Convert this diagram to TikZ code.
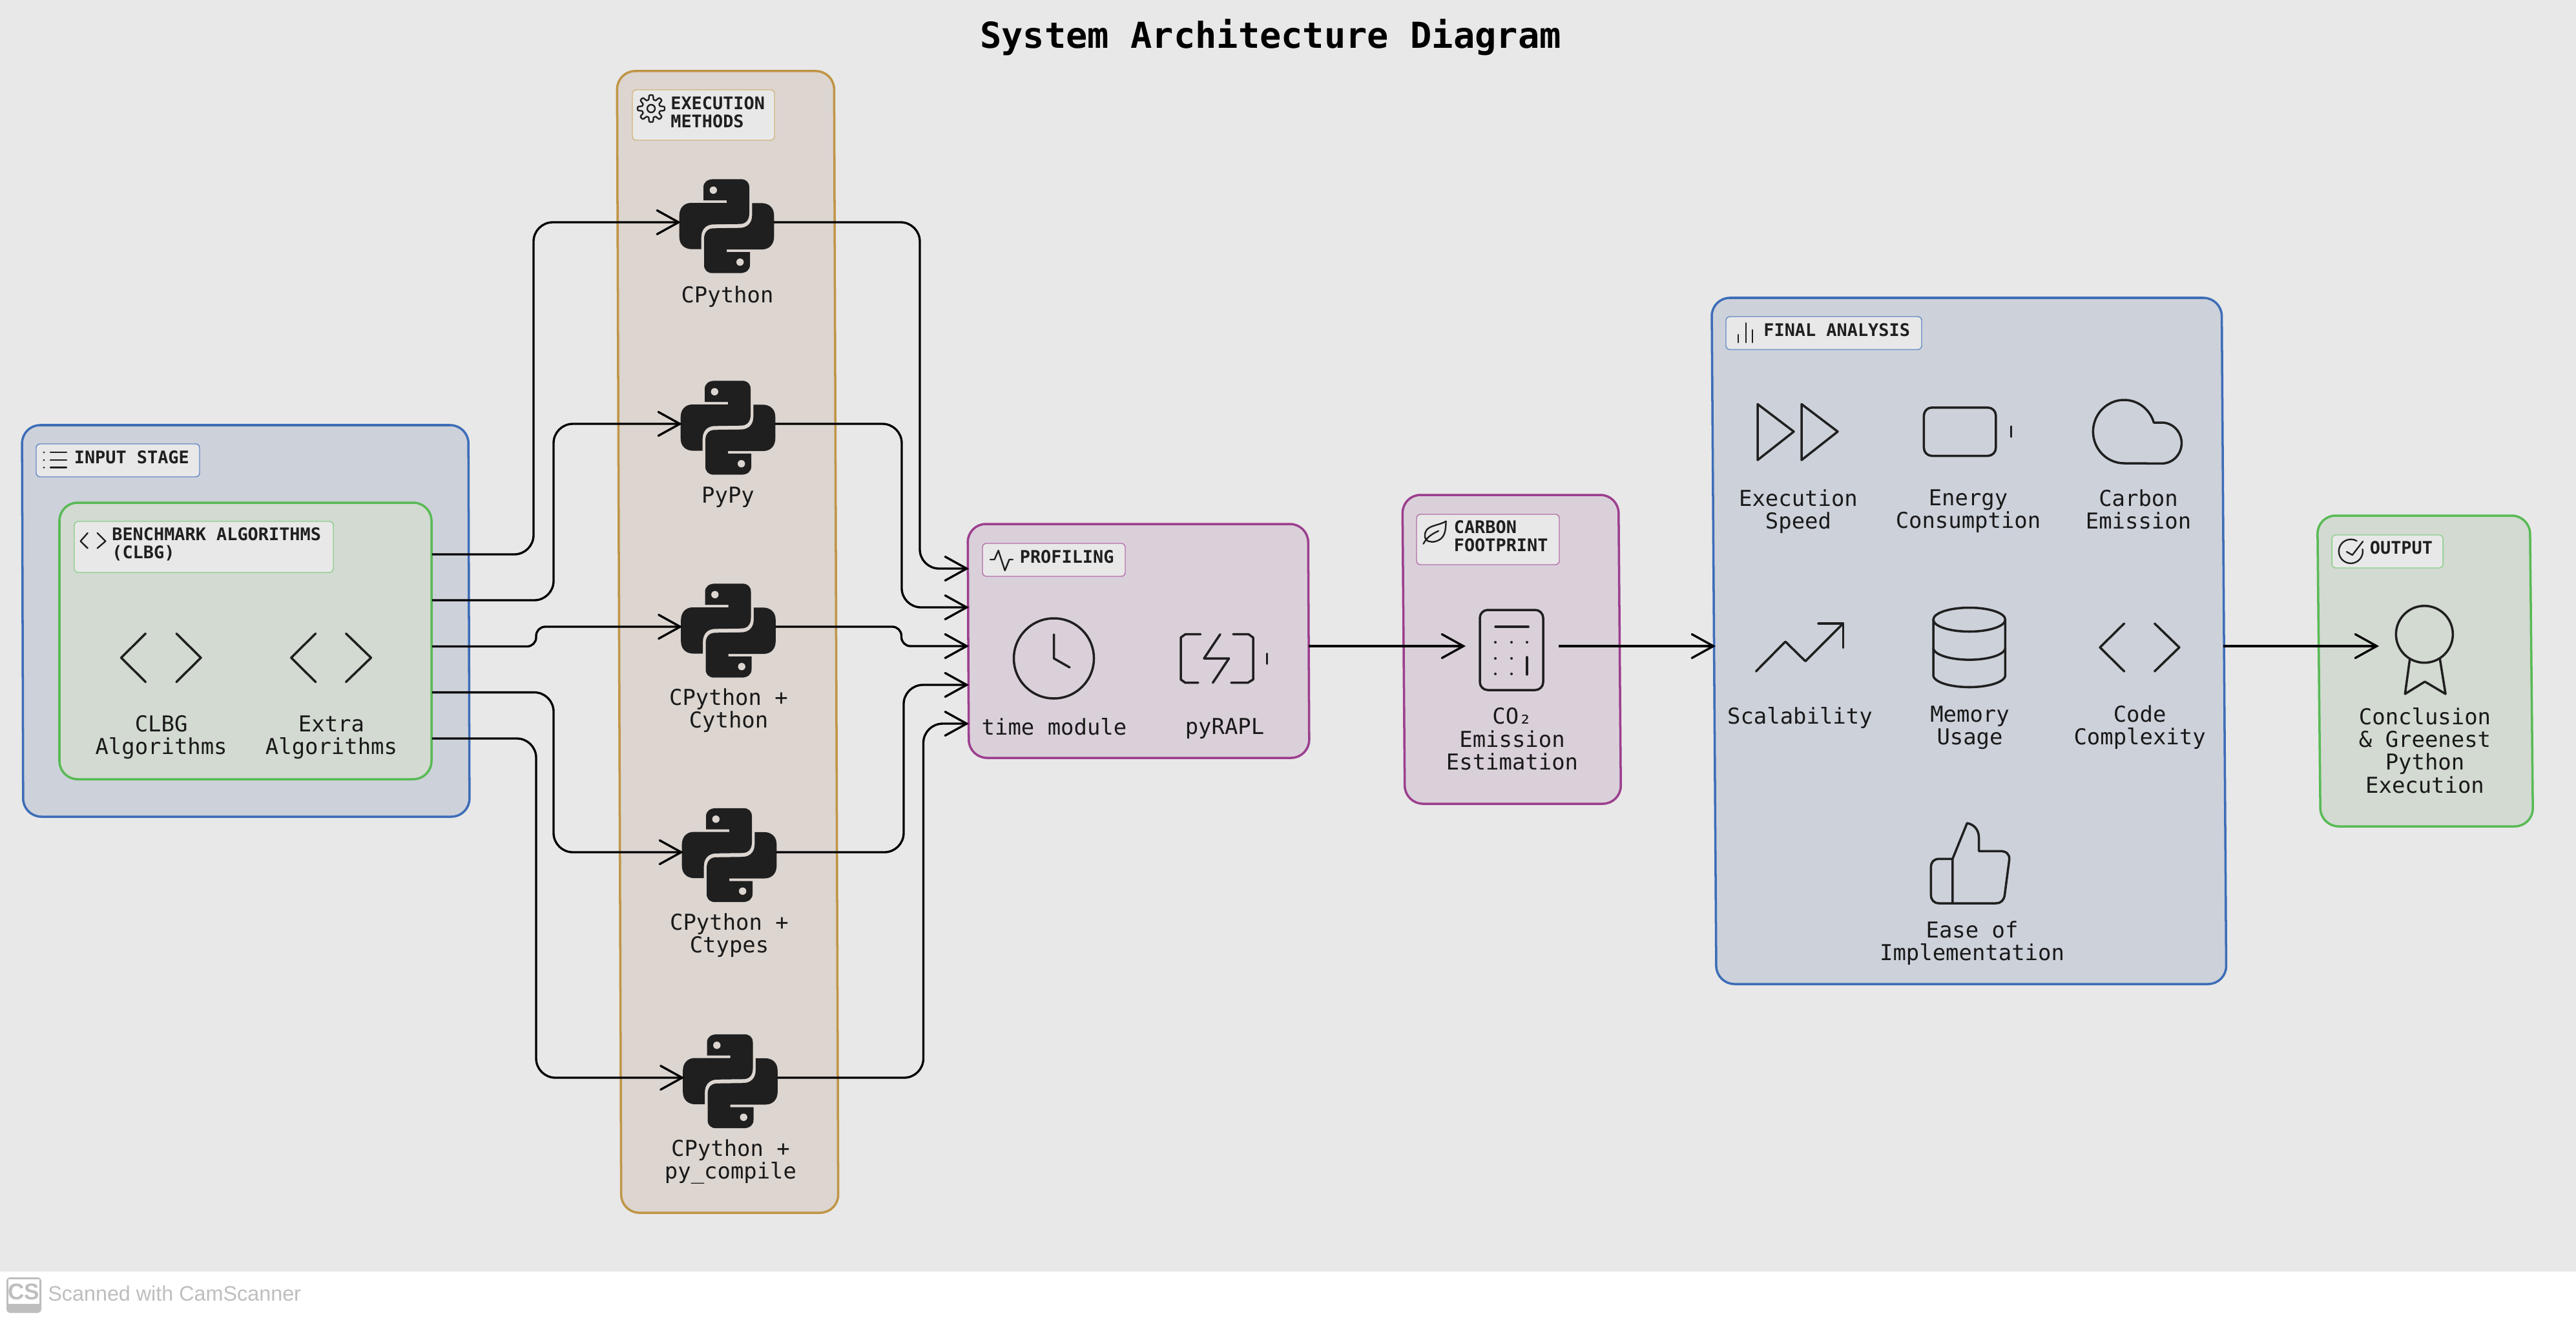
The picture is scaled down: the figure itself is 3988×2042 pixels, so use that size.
\documentclass[tikz,border=0pt]{standalone}
\usepackage{fontspec}
\usetikzlibrary{arrows.meta}
\newfontfamily\lblfont{DejaVu Sans Mono}
\newfontfamily\wmfont{Liberation Sans}
\definecolor{bg}{HTML}{E8E8E8}
\definecolor{ink}{HTML}{1F1F1F}
\definecolor{bluefill}{HTML}{CDD1DA}
\definecolor{bluedge}{HTML}{3D6DB8}
\definecolor{greenfill}{HTML}{D2DAD1}
\definecolor{greenedge}{HTML}{58BA55}
\definecolor{tanfill}{HTML}{DCD5D0}
\definecolor{tanedge}{HTML}{C09547}
\definecolor{plumfill}{HTML}{DAD0DA}
\definecolor{plumedge}{HTML}{9C3F8E}
\definecolor{wm}{HTML}{BEBEBE}
\newcommand\fx{\vphantom{Ay}}
\tikzset{
  x=0.02cm,y=-0.02cm,
  panel/.style={rectangle,rounded corners=16pt,line width=2pt,inner sep=0pt,outer sep=0pt,transform shape},
  tagbox/.style={rectangle,rounded corners=3.5pt,line width=0.8pt,fill=bg,inner sep=0pt,outer sep=0pt},
  lbl/.style={font=\lblfont\fontsize{19.3pt}{20pt}\selectfont,align=center,inner sep=0pt,text=black!90,yshift=-1.1pt},
  taglbl/.style={font=\lblfont\bfseries\fontsize{15.3pt}{16.1pt}\selectfont,align=left,anchor=west,inner sep=0pt,text=ink},
  ico/.style={draw=ink,line width=2pt,line cap=round,line join=round},
  tagico/.style={draw=ink,line width=1.35pt,line cap=round,line join=round},
  conn/.style={draw=black,line width=1.9pt,rounded corners=17pt,-{Straight Barb[length=19pt,width=21pt,line cap=round]}},
  pybox/.style={rectangle,minimum width=2.88cm,minimum height=2.88cm,inner sep=0pt,outer sep=0pt},
}
\newcommand\panelbox[6]{%
  \pgfmathsetmacro\pw{(#4-#2)*0.02}\pgfmathsetmacro\ph{(#5-#3)*0.02}%
  \pgfmathsetmacro\pcx{(#2+#4)/2}\pgfmathsetmacro\pcy{(#3+#5)/2}%
  \node[#6,minimum width=\pw cm,minimum height=\ph cm] (#1) at (\pcx,\pcy) {};}
\newcommand\codeicon[6]{% tip, inner, inner, tip, y centre, half height
  \draw[ico] (#2,#5-#6) -- (#1,#5) -- (#2,#5+#6);
  \draw[ico] (#3,#5-#6) -- (#4,#5) -- (#3,#5+#6);}
\newcommand\pyicon[3]{%
  \begin{scope}[shift={(#1,#2)}]
  \foreach \r in {0,180}{
  \begin{scope}[rotate around={\r:(0,0)}]
  \fill[ink] (-36,-40) -- (-36,-60) .. controls (-36,-68) and (-30,-72.7) .. (-20,-72.7) -- (21.7,-72.7)
    .. controls (30,-72.7) and (35,-68) .. (35,-60) -- (35,-20) .. controls (35,-10) and (30,-3.3) .. (20,-3.3)
    -- (-20,-2.7) .. controls (-32,-2.7) and (-39.3,5) .. (-39.3,16.7) -- (-39.3,35.7) -- (-53.3,35.7)
    .. controls (-66,35.7) and (-73.3,28) .. (-73.3,16.7) -- (-73.3,-16.7) .. controls (-73.3,-28) and (-66,-36) .. (-55,-36)
    -- (0,-36) -- (0,-40) -- cycle;
  \fill[tanfill] (-20.7,-55.7) circle[radius=5.7];
  \end{scope}}
  \end{scope}}
\begin{document}
\begin{tikzpicture}
\useasboundingbox (0,0) rectangle (3988,2042);
\fill[white] (0,0) rectangle (3988,2042);
\fill[bg] (0,0) rectangle (3988,1968);

\node[font=\lblfont\bfseries\fontsize{31.5pt}{33pt}\selectfont,text=black,inner sep=0pt] (title) at (1967,58) {System Architecture Diagram};

% panels
\panelbox{input}{35}{658}{726}{1264}{panel,draw=bluedge,fill=bluefill,xslant=-0.003}
\panelbox{bench}{92}{778}{668}{1206}{panel,draw=greenedge,fill=greenfill}
\panelbox{exec}{958.5}{110}{1294.5}{1877}{panel,draw=tanedge,fill=tanfill,xslant=-0.0037}
\panelbox{prof}{1499}{811}{2026}{1173}{panel,draw=plumedge,fill=plumfill,xslant=-0.005}
\panelbox{carbon}{2173}{766}{2507.5}{1244}{panel,draw=plumedge,fill=plumfill,xslant=-0.008}
\panelbox{final}{2653.5}{461}{3443}{1523}{panel,draw=bluedge,fill=bluefill,xslant=-0.0068}
\panelbox{output}{3590}{798}{3919}{1279}{panel,draw=greenedge,fill=greenfill,xslant=-0.01}

% tags
\panelbox{taginput}{56}{687}{309}{738}{tagbox,draw=bluedge!80}
\panelbox{tagbench}{115}{807}{516}{886}{tagbox,draw=greenedge!70}
\panelbox{tagexec}{979}{139}{1199}{217}{tagbox,draw=tanedge!70}
\panelbox{tagprof}{1521}{841}{1742}{892}{tagbox,draw=plumedge!75}
\panelbox{tagcarbon}{2193}{796}{2414}{874}{tagbox,draw=plumedge!75}
\panelbox{tagfinal}{2672}{490}{2975}{541}{tagbox,draw=bluedge!80}
\panelbox{tagoutput}{3610}{828}{3782}{879}{tagbox,draw=greenedge!70}

\node[taglbl] (tinput) at (114.5,708) {INPUT STAGE};
\node[taglbl] (tbench) at (173,842) {BENCHMARK ALGORITHMS\\(CLBG)};
\node[taglbl] (texec) at (1038,173.5) {EXECUTION\\METHODS};
\node[taglbl] (tprof) at (1578.5,862) {PROFILING};
\node[taglbl] (tcarbon) at (2250.5,830) {CARBON\\FOOTPRINT};
\node[taglbl] (tfinal) at (2730,510.5) {FINAL ANALYSIS};
\node[taglbl] (toutput) at (3668.5,848) {OUTPUT};

% tag icons
\draw[tagico] (78,700) -- (103,700) (78,712) -- (103,712) (78,723.5) -- (103,723.5);
\fill[ink] (68,700) circle[radius=1.5] (68,712) circle[radius=1.5] (68,723.5) circle[radius=1.5];
\draw[tagico] (135.7,825) -- (124.6,837.6) -- (135.7,848.5);
\draw[tagico] (150.7,825) -- (163.4,837.6) -- (150.7,848.5);
\draw[tagico] plot[domain=0:360,samples=161,smooth] ({1008+(17.5+3.5*tanh(2.5*cos(8*\x)))*cos(\x)},{168+(17.5+3.5*tanh(2.5*cos(8*\x)))*sin(\x)}) -- cycle;
\draw[tagico] (1008,168) circle[radius=6];
\draw[tagico] (1533,866) -- (1539.5,866) -- (1545.6,852) -- (1555.7,883) -- (1562.5,866) -- (1568,866);
\draw[tagico] (2238.6,806.7) .. controls (2225,815) and (2205,812) .. (2206,830) .. controls (2206,838) and (2216,840) .. (2222,838) .. controls (2238,834) and (2238,820) .. (2238.6,806.7);
\draw[tagico] (2203.5,841.7) .. controls (2210,830) and (2218,826) .. (2227,821.7);
\draw[tagico] (2690.7,518) -- (2690.7,530) (2702.8,500) -- (2702.8,530) (2713,510.6) -- (2713,530);
\draw[tagico] plot[domain=-10:300,samples=60] ({3639.3+18.5*cos(\x)},{853.3+18.5*sin(\x)});
\draw[tagico] (3633,854) -- (3641.7,859) -- (3658,838);

% input icons
\codeicon{187.6}{225.4}{273}{311}{1018}{37.5}
\codeicon{450.8}{488.6}{535.6}{574.4}{1018}{37.5}
\node[lbl] (lclbg) at (249.6,1139.5) {\fx CLBG\\Algorithms\fx};
\node[lbl] (lextra) at (513,1139.5) {\fx Extra\\Algorithms\fx};

% python
\pyicon{1125}{350}{}
\pyicon{1127}{662}{}
\pyicon{1127.5}{976}{}
\pyicon{1129}{1323.5}{}
\pyicon{1130.5}{1673.5}{}
\node[pybox] (py1) at (1126,344) {};
\node[pybox] (py2) at (1128,656) {};
\node[pybox] (py3) at (1128.5,970) {};
\node[pybox] (py4) at (1130,1319) {};
\node[pybox] (py5) at (1131.5,1668) {};
\node[lbl] (lpy1) at (1126,457) {\fx CPython\fx};
\node[lbl] (lpy2) at (1127,768) {\fx PyPy\fx};
\node[lbl] (lpy3) at (1128,1097.5) {\fx CPython +\\Cython\fx};
\node[lbl] (lpy4) at (1129,1446) {\fx CPython +\\Ctypes\fx};
\node[lbl] (lpy5) at (1131,1796) {\fx CPython +\\py\_compile\fx};

% profiling
\draw[ico] (1631.5,1019) circle[radius=62];
\draw[ico] (1631.5,982) -- (1631.5,1019) -- (1656,1033);
\draw[ico] (1858.6,981.7) -- (1835,981.7) -- (1828,986.7) -- (1828,1051.7) -- (1835,1056.7) -- (1855,1056.7);
\draw[ico] (1909,981.7) -- (1933,981.7) -- (1940,986.7) -- (1940,1051.7) -- (1931.7,1056.7) -- (1906,1056.7);
\draw[ico] (1889,981.7) -- (1864,1019) -- (1902.6,1019) -- (1877.6,1056.7);
\draw[ico] (1961.4,1011.7) -- (1961.4,1027.3);
\node[lbl] (ltime) at (1632,1126) {\fx time module\fx};
\node[lbl] (lrapl) at (1896,1126) {\fx pyRAPL\fx};

% carbon
\draw[ico,rounded corners=7pt] (2291,944) rectangle (2389,1068);
\draw[ico] (2315,970) -- (2366,970);
\fill[ink] (2315,994) circle[radius=2] (2340,994) circle[radius=2] (2364,994) circle[radius=2]
  (2315,1019) circle[radius=2] (2340,1019) circle[radius=2] (2315,1043) circle[radius=2] (2340,1043) circle[radius=2];
\draw[ico] (2364,1017) -- (2364,1044);
\node[pybox] (calc) at (2341,1000) {};
\node[lbl] (lco) at (2341,1145) {\fx CO₂\\Emission\\Estimation\fx};

% final analysis
\draw[ico] (2721,625.5) -- (2777,668) -- (2721,712) -- cycle;
\draw[ico] (2789,625.5) -- (2845,668) -- (2789,712) -- cycle;
\node[lbl] (lspeed) at (2784,789.5) {\fx Execution\\Speed\fx};
\draw[ico,rounded corners=7pt] (2978.4,630.8) rectangle (3089.8,705.5);
\draw[ico] (3113.3,660) -- (3113.3,676);
\node[lbl] (lenergy) at (3047,789.5) {\fx Energy\\Consumption\fx};
\draw[ico] plot[domain=270:450,samples=40] ({3346.6+30.8*cos(\x)},{685.7+31.7*sin(\x)}) -- plot[domain=90:343.4,samples=60] ({3288.35+48*cos(\x)},{668+49*sin(\x)}) -- cycle;
\node[lbl] (lcarbon) at (3310.5,789.5) {\fx Carbon\\Emission\fx};
\draw[ico] (2718.5,1039) -- (2764,993) -- (2795,1023.4) -- (2853.4,965);
\draw[ico] (2815,965) -- (2853.4,965) -- (2853.4,1002.6);
\node[lbl] (lscale) at (2786.4,1109) {\fx Scalability\fx};
\draw[ico] (3048.7,959) ellipse[x radius=55.7,y radius=18.5];
\draw[ico] (2993,959) -- (2993,1045) -- plot[domain=180:0,samples=40] ({3048.7+55.7*cos(\x)},{1045+18.5*sin(\x)}) -- (3104.4,959);
\draw[ico] plot[domain=0:180,samples=40] ({3048.7+55.7*cos(\x)},{1002.6+18.5*sin(\x)});
\node[lbl] (lmem) at (3049.5,1124) {\fx Memory\\Usage\fx};
\codeicon{3251}{3288.5}{3335.6}{3373.8}{1002}{37}
\node[lbl] (lcode) at (3312.6,1124) {\fx Code\\Complexity\fx};
\draw[ico] (3022.8,1396.7) -- (3022.8,1329.3) -- (3045.3,1274) .. controls (3056,1276) and (3063.6,1284) .. (3063.6,1297) -- (3063.6,1317.3) -- (3097,1317.3) .. controls (3106,1317.3) and (3111,1322) .. (3110.7,1330) -- (3103.5,1385) .. controls (3102.5,1393) and (3098,1398) .. (3089.8,1398) -- (3002,1398) .. controls (2994,1398) and (2989.4,1393) .. (2989.4,1385) -- (2989.4,1342) .. controls (2989.4,1334) and (2994,1329.3) .. (3002,1329.3) -- (3022.8,1329.3);
\node[lbl] (lease) at (3053,1457.5) {\fx Ease of\\Implementation\fx};

% output
\draw[ico] (3753.3,981.7) circle[radius=44];
\draw[ico] (3730.7,1020) -- (3723.3,1074) -- (3754,1055) -- (3786,1074) -- (3777.3,1020);
\node[pybox,minimum width=0.4cm] (concl) at (3693,1000) {};
\node[lbl] (lout) at (3754,1163) {\fx Conclusion\\\& Greenest\\Python\\Execution\fx};

% connector anchors
\coordinate (b1) at (669,858);
\coordinate (b2) at (669,929);
\coordinate (b3) at (669,1000.5);
\coordinate (b4) at (669,1071.6);
\coordinate (b5) at (669,1143);
\coordinate (p1) at (1500,880);
\coordinate (p2) at (1500,940);
\coordinate (p3) at (1500,1000);
\coordinate (p4) at (1500,1060);
\coordinate (p5) at (1500,1120);
\coordinate (e1) at (2026,1000);
\coordinate (c1) at (2656,1000);
\coordinate (f1) at (3442,1000);

\draw[conn] (b1) -- ++(157,0) |- (py1.west);
\draw[conn] (b2) -- ++(188,0) |- (py2.west);
\draw[conn,rounded corners=8pt] (b3) -- ++(161,0) |- (py3.west);
\draw[conn] (b4) -- ++(188,0) |- (py4.west);
\draw[conn] (b5) -- ++(161,0) |- (py5.west);
\draw[conn] (py1.east) -- ++(226,0) |- (p1);
\draw[conn] (py2.east) -- ++(196,0) |- (p2);
\draw[conn,rounded corners=8pt] (py3.east) -- ++(195,0) |- (p3);
\draw[conn] (py4.east) -- ++(197,0) |- (p4);
\draw[conn] (py5.east) -- ++(226,0) |- (p5);
\draw[conn] (e1) -- (calc.west);
\draw[conn] (calc.east) -- (c1);
\draw[conn] (f1) -- (concl.west);

% watermark
\fill[wm,rounded corners=3pt] (10,1977) rectangle (64,2032);
\fill[white] (13,1980) rectangle (61,2018);
\node[font=\wmfont\bfseries\fontsize{20pt}{20pt}\selectfont,text=wm,inner sep=0pt] (cslogo) at (37,1999) {CS};
\node[font=\wmfont\fontsize{18.4pt}{20pt}\selectfont,text=wm,anchor=west,inner sep=0pt] (wmtext) at (74,2002) {Scanned with CamScanner};
\end{tikzpicture}
\end{document}
